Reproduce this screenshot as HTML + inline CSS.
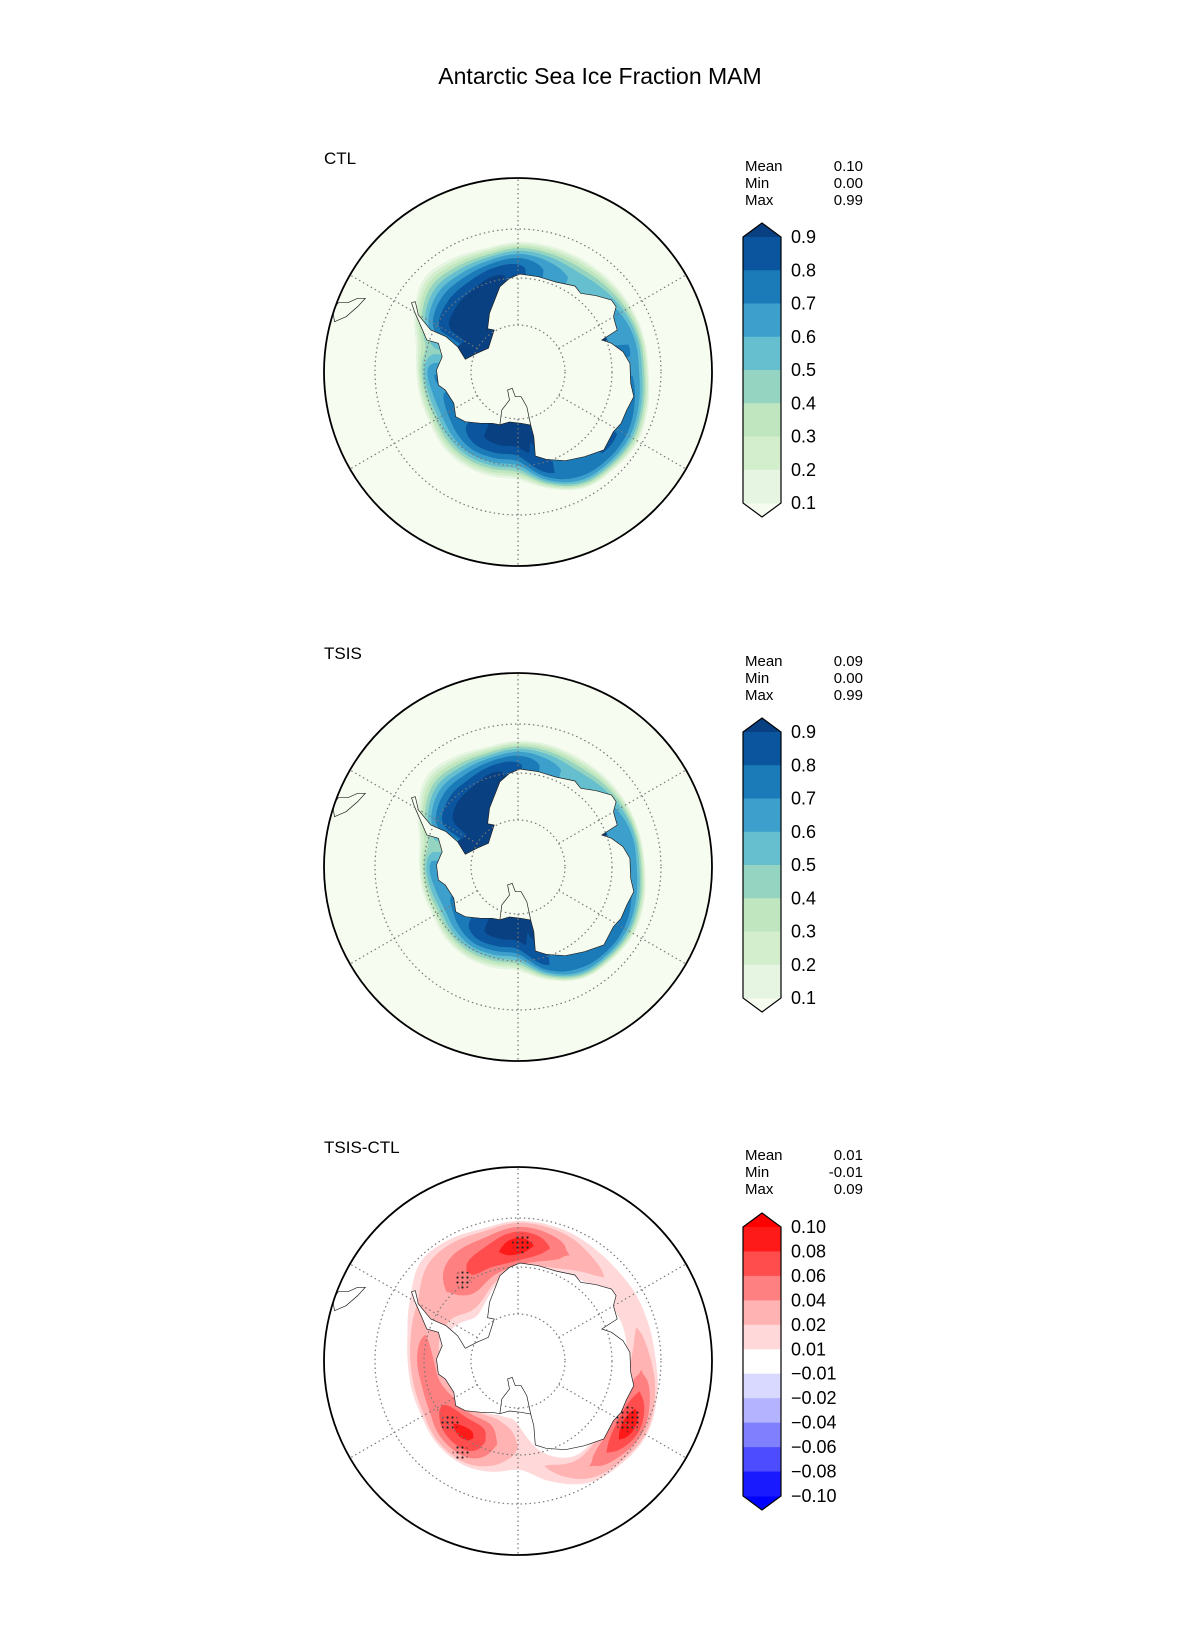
<!DOCTYPE html>
<html><head><meta charset="utf-8"><style>
html,body{margin:0;padding:0;background:#fff}
svg{display:block;font-family:"Liberation Sans","DejaVu Sans",sans-serif}
</style></head><body>
<svg id="fig" width="1200" height="1650" viewBox="0 0 1200 1650">
<defs><pattern id="dots" width="5" height="5" patternUnits="userSpaceOnUse"><circle cx="2.5" cy="2.5" r="1.1" fill="#222"/></pattern></defs>
<text x="600" y="84" text-anchor="middle" font-size="23" fill="#000">Antarctic Sea Ice Fraction MAM</text>
</svg>
<script>
// ---- data arrays (angle clockwise from top, 15deg steps) ----
const angles = [0,15,30,45,60,75,90,105,120,135,150,165,180,195,210,225,240,255,270,285,300,315,330,345];
const ctlEdge = [132,132,132,132,132,132,132,136,140,138,135,122,110,110,110,108,104,103,103,108,122,136,134,130];
const ctlMax  = [0.85,0.7,0.6,0.6,0.65,0.7,0.7,0.75,0.8,0.8,0.75,0.85,0.95,0.95,0.9,0.8,0.75,0.7,0.7,0.5,0.88,0.98,0.98,0.95];
const tsisEdge = [128,128,127,127,127,127,128,132,135,133,130,118,106,106,106,104,100,100,100,104,118,132,130,126];
const tsisMax  = [0.83,0.68,0.58,0.58,0.62,0.68,0.68,0.72,0.78,0.78,0.72,0.83,0.95,0.95,0.9,0.78,0.72,0.68,0.68,0.48,0.85,0.98,0.98,0.95];
const iceBase = [96,100,102,106,110,112,112,113,114,115,114,95,60,60,66,70,70,75,80,82,72,62,70,85];
const diffMax = [0.09,0.06,0.03,0.02,0.02,0.02,0.03,0.06,0.09,0.06,0.03,0.02,0.02,0.04,0.08,0.08,0.06,0.05,0.05,0.04,0.03,0.04,0.06,0.07];
const hatchSpots = [[2,118,10],[118,124,13],[212,108,8],[228,92,9],[326,98,9]];
const iceLevels = [0.1,0.2,0.3,0.4,0.5,0.6,0.7,0.8,0.9];
const iceColors = ['#e6f5e1','#d3eecd','#bfe6bf','#94d4c0','#65bfce','#3d9fcb','#1b7bb8','#0a559d','#084081'];
const iceTicks = ['0.9','0.8','0.7','0.6','0.5','0.4','0.3','0.2','0.1'];
const diffLevels = [0.01,0.02,0.04,0.06,0.08];
const diffColors = ['#ffd9d9','#ffb3b3','#ff8080','#ff4d4d','#ff1a1a'];
const diffTicks = ['0.10','0.08','0.06','0.04','0.02','0.01','\u22120.01','\u22120.02','\u22120.04','\u22120.06','\u22120.08','\u22120.10'];
const diffBarColors = ['#ff1a1a','#ff4d4d','#ff8080','#ffb3b3','#ffd9d9','#ffffff','#d9d9ff','#b3b3ff','#8080ff','#4d4dff','#1a1aff'];
const stats = [['0.10','0.00','0.99'],['0.09','0.00','0.99'],['0.01','-0.01','0.09']];
const titles = ['CTL','TSIS','TSIS-CTL'];
// coastline (geography) in reference-zoom coordinates
const coastZ = [[572,432],[620,440],[665,456],[715,468],[730,490],[770,497],[810,510],[822,530],[815,560],[825,600],[785,630],[810,640],[840,665],[858,700],[860,760],[868,800],[850,840],[835,880],[815,905],[790,960],[740,980],[690,992],[640,988],[612,978],[608,920],[600,885],[575,880],[545,876],[520,884],[500,880],[470,880],[430,875],[405,860],[400,820],[378,780],[360,765],[355,720],[370,680],[360,640],[330,630],[315,590],[298,545],[290,518],[300,515],[308,555],[340,600],[380,620],[410,650],[430,688],[460,670],[490,655],[505,600],[488,596],[493,550],[520,470],[545,445]];
const rossZ = [[520,884],[525,840],[545,810],[540,780],[552,775],[560,800],[575,800],[590,830],[600,885]];
const saZ = [[90,575],[120,560],[150,530],[170,505],[150,505],[125,518],[100,518],[85,540]];

const NS='http://www.w3.org/2000/svg';
const svg=document.getElementById('fig');
function el(tag,attrs,parent){const e=document.createElementNS(NS,tag);for(const k in attrs)e.setAttribute(k,attrs[k]);(parent||svg).appendChild(e);return e;}
const STEP=15;
function interp(arr,deg){const n=arr.length;const f=((deg%360)+360)%360/STEP;const i=Math.floor(f),t=f-i;
 const p0=arr[(i-1+n)%n],p1=arr[i%n],p2=arr[(i+1)%n],p3=arr[(i+2)%n];
 return 0.5*((2*p1)+(-p0+p2)*t+(2*p0-5*p1+4*p2-p3)*t*t+(-p0+3*p1-3*p2+p3)*t*t*t);}
const R=194, cx=518, cys=[372,867,1361];
function pt(cy,r,deg){const a=deg*Math.PI/180;return [cx+r*Math.sin(a),cy-r*Math.cos(a)];}
function ring(cy,rf){let d='';for(let a=0;a<360;a+=2){const p=pt(cy,rf(a),a);d+=(a?'L':'M')+p[0].toFixed(1)+' '+p[1].toFixed(1);}return d+'Z';}
function zoomToXY(cy,z){return [cx+(z[0]-567)/2.6, cy+(z[1]-726)/3];}
function pts(cy,arr){return arr.map(z=>zoomToXY(cy,z).map(v=>v.toFixed(1)).join(',')).join(' ');}

for(let p=0;p<3;p++){
 const cy=cys[p], off=cy-372;
 const g=el('g',{});
 
 
 const lab=el('text',{x:324,y:164+off,'font-size':17},g);lab.textContent=titles[p];
 
 const cp=el('clipPath',{id:'clip'+p},g);el('circle',{cx:cx,cy:cy,r:R},cp);
 const mg=el('g',{'clip-path':'url(#clip'+p+')'},g);
 const bg=el('circle',{cx:cx,cy:cy,r:R,fill:p<2?'#f7fcf0':'#ffffff'},mg);
 
 if(p<2){
  const edge=p==0?ctlEdge:tsisEdge, mx=p==0?ctlMax:tsisMax;
  iceLevels.forEach((L,i)=>{
   const path=el('path',{d:ring(cy,a=>{const c=interp(mx,a),b=interp(iceBase,a),e=interp(edge,a);
     return c<=L? b*0.85 : b+(e-b)*Math.pow(1-L/c,0.4);}),fill:iceColors[i]},mg);
   
   
  });
 } else {
  diffLevels.forEach((L,i)=>{
   const inner=a=>interp(iceBase,a)-8, outer=a=>interp(ctlEdge,a)+10;
   const sh=a=>{const d=interp(diffMax,a),w=outer(a)-inner(a);if(d<=L)return w/2;return w*Math.asin(L/d)/Math.PI;};
   const d=ring(cy,a=>outer(a)-sh(a))+ring(cy,a=>inner(a)+sh(a));
   const path=el('path',{d:d,fill:diffColors[i],'fill-rule':'evenodd'},mg);
   
   
  });
  hatchSpots.forEach(h=>{const q=pt(cy,h[1],h[0]);
   const c=el('circle',{cx:q[0],cy:q[1],r:h[2],fill:'url(#dots)'},mg);
   });
 }
 const land=el('polygon',{points:pts(cy,coastZ),fill:p<2?'#f7fcf0':'#ffffff',stroke:'#222','stroke-width':0.7},mg);
 
 const ross=el('polyline',{points:pts(cy,rossZ),fill:'none',stroke:'#222','stroke-width':0.7},mg);
 
 const sa=el('polygon',{points:pts(cy,saZ),fill:'none',stroke:'#222','stroke-width':0.7},mg);
 
 [47,94,143].forEach(r=>{const c=el('circle',{cx:cx,cy:cy,r:r,fill:'none',stroke:'#777','stroke-width':1.2,'stroke-dasharray':'1.5 3'},mg);
  });
 for(let a=0;a<360;a+=60){const p1=pt(cy,47,a),p2=pt(cy,R,a);
  const l=el('line',{x1:p1[0],y1:p1[1],x2:p2[0],y2:p2[1],stroke:'#777','stroke-width':1.2,'stroke-dasharray':'1.5 3'},mg);
  }
 const bd=el('circle',{cx:cx,cy:cy,r:R,fill:'none',stroke:'#000','stroke-width':1.8},g);
 
 ['Mean','Min','Max'].forEach((s,i)=>{
  const t=el('text',{x:745,y:171+off+i*17,'font-size':15},g);t.textContent=s;
  
  const v=el('text',{x:863,y:171+off+i*17,'font-size':15,'text-anchor':'end'},g);v.textContent=stats[p][i];
  
 });
 const cb=el('g',{},g);
 
 const bx=743,bw=38,top=p<2?237+off:1227,bot=p<2?503+off:1496,th=14;
 const cols=p<2?iceColors.slice(0,8).reverse():diffBarColors;
 const ticks=p<2?iceTicks:diffTicks;
 const n=cols.length,h=(bot-top)/n;
 const topCol=p<2?'#084081':'#ff0000', botCol=p<2?'#f7fcf0':'#0000ff';
 el('polygon',{points:`${bx},${top} ${bx+bw/2},${top-th} ${bx+bw},${top}`,fill:topCol},cb);
 el('polygon',{points:`${bx},${bot} ${bx+bw/2},${bot+th} ${bx+bw},${bot}`,fill:botCol},cb);
 cols.forEach((c,i)=>{const r=el('rect',{x:bx,y:top+i*h,width:bw,height:h+0.5,fill:c},cb);
  });
 el('polygon',{points:`${bx},${top} ${bx+bw/2},${top-th} ${bx+bw},${top} ${bx+bw},${bot} ${bx+bw/2},${bot+th} ${bx},${bot}`,fill:'none',stroke:'#000','stroke-width':1.2},cb);
 ticks.forEach((t,i)=>{const tx=el('text',{x:791,y:top+i*h+6,'font-size':18},cb);tx.textContent=t;
  });
}
</script>
</body></html>
